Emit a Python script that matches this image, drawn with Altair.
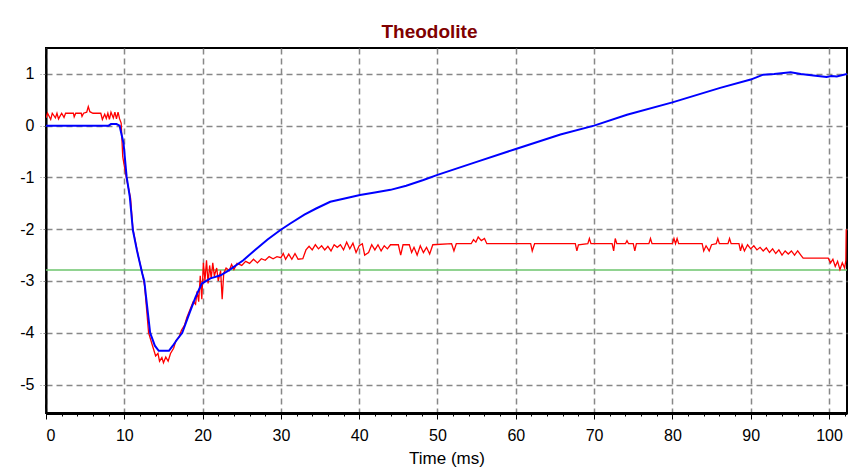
import altair as alt
import pandas as pd

title_text = "Theodolite"
x_title = "Time (ms)"
x_ticks = list(range(0, 103, 2))
y_ticks = [-5, -4, -3, -2, -1, 0, 1]
threshold = [-2.79]

blue_t = [0, 8.0, 8.3, 9.0, 9.4, 9.9, 10.3, 10.7, 11.1, 11.6, 12.3, 12.55, 13.3, 13.9,
          14.4, 15.7, 16.2, 16.7, 17.4, 18.3, 19.1, 19.9, 21.0, 22.3, 23.3, 25.2, 26.7,
          28.3, 29.9, 31.2, 33.0, 34.5, 36.3, 38.0, 40.1, 42.0, 44.0, 46.0, 48.2, 50,
          55, 60, 65.7, 70, 74.2, 80, 86.1, 90, 91.6, 93, 95.1, 96.4, 98, 99.7, 100.3,
          101, 102.3]
blue_v = [0, 0, 0.03, 0.03, 0.0, -0.34, -0.99, -1.37, -2.02, -2.4, -2.86, -3.0, -4.0, -4.25,
          -4.35, -4.35, -4.25, -4.14, -4.0, -3.63, -3.31, -3.05, -2.95, -2.89, -2.8, -2.6, -2.4,
          -2.2, -2.02, -1.89, -1.72, -1.6, -1.47, -1.41, -1.34, -1.29, -1.24, -1.16, -1.05, -0.95,
          -0.7, -0.45, -0.17, 0.0, 0.21, 0.45, 0.73, 0.89, 0.985, 1.0, 1.03, 1.0, 0.97, 0.94, 0.96,
          0.95, 1.0]

red_t = [0, 0.2, 0.6, 0.8, 1.2, 1.4, 1.6, 2.0, 2.3, 2.5, 3.5, 3.6, 3.8, 4.5, 4.6, 4.8, 5.2,
         5.4, 5.6, 6.0, 7.0, 7.2, 7.5, 7.7, 7.9, 8.1, 8.3, 8.6, 8.8, 9.0, 9.2, 9.4, 9.6,
         9.8, 10.25, 10.8, 11.1, 11.8, 12.3, 12.6, 13.1, 13.4, 13.7, 14.0, 14.3, 14.5, 14.8,
         15.0, 15.3, 15.6, 15.9, 16.3, 16.6, 17.0, 17.3, 17.7, 18.0, 18.4, 18.8, 19.1, 19.3,
         19.5, 19.7, 19.9, 20.1, 20.3, 20.5, 20.7, 20.9, 21.1, 21.3, 21.5, 21.8, 22.0, 22.3,
         22.5, 22.7, 23.0, 23.4, 23.7, 24.0, 24.4, 25.0, 25.5, 26.0, 26.5, 27.0, 27.5, 28.0,
         28.5, 29.0, 29.5, 30.0, 30.3, 30.6, 31.0, 31.4, 31.8, 32.2, 32.8, 33.2, 33.6, 34.0,
         34.4, 34.8, 35.2, 35.6, 36.0, 36.4, 36.8, 37.2, 37.6, 38.0, 38.4, 38.8, 39.2, 39.6,
         40.0, 40.4, 40.7, 41.2, 41.6, 42.0, 42.4, 42.8, 43.2, 43.6, 44.0, 45.0, 45.3, 45.6,
         46.4, 46.7, 47.0, 47.4, 47.8, 48.2, 48.6, 49.0, 49.4, 51.8, 52.1, 52.4, 54.3, 54.6,
         54.9, 55.2, 55.6, 56.0, 56.3, 61.9, 62.1, 62.4, 67.6, 67.8, 68.0, 69.2, 69.4, 69.6,
         72.3, 72.5, 72.7, 72.9, 74.0, 74.2, 74.4, 75.0, 75.2, 75.4, 77.0, 77.2, 77.4, 80.0,
         80.2, 80.4, 80.6, 80.8, 83.8, 84.0, 84.3, 84.7, 85.0, 85.6, 85.8, 86.0, 87.1, 87.3,
         87.5, 88.5, 88.7, 88.9, 89.2, 89.6, 90.0, 90.4, 90.8, 91.2, 91.6, 92.0, 92.4, 92.8,
         93.2, 93.6, 94.0, 94.4, 94.8, 95.2, 95.6, 96.0, 96.4, 96.7, 99.9, 100.2, 100.5,
         100.8, 101.1, 101.4, 101.7, 102.0, 102.15, 102.2]
red_v = [0.15, 0.24, 0.12, 0.24, 0.15, 0.24, 0.13, 0.24, 0.16, 0.24, 0.24, 0.17, 0.24, 0.24,
         0.18, 0.24, 0.26, 0.37, 0.27, 0.24, 0.24, 0.12, 0.22, 0.14, 0.24, 0.12, 0.26, 0.15,
         0.26, 0.13, 0.26, 0.13, 0.05,
         -0.6, -1.0, -1.4, -2.0, -2.53, -2.85, -3.1, -4.0, -4.15, -4.3, -4.45, -4.4, -4.55,
         -4.48, -4.58, -4.47, -4.55, -4.4, -4.3, -4.15, -4.08, -3.95, -3.85, -3.7, -3.55,
         -3.4, -3.45, -3.2, -3.4, -2.9, -3.35, -2.65, -3.0, -2.6, -3.05, -2.7, -2.95, -2.65,
         -2.9, -2.75, -3.0, -2.8, -3.35, -2.85, -2.75, -2.8, -2.68, -2.78, -2.66, -2.7, -2.62,
         -2.66, -2.58, -2.65, -2.57, -2.6, -2.53, -2.57, -2.53, -2.55, -2.47, -2.58, -2.48,
         -2.58, -2.47, -2.58, -2.57, -2.4, -2.33, -2.4, -2.3, -2.38, -2.32, -2.4, -2.33, -2.42,
         -2.3, -2.35, -2.3, -2.4, -2.25, -2.38, -2.27, -2.45, -2.32, -2.28, -2.5, -2.45, -2.3,
         -2.4, -2.3, -2.42, -2.32, -2.38, -2.3, -2.3, -2.5, -2.3, -2.3, -2.45, -2.35, -2.5,
         -2.32, -2.45, -2.35, -2.48, -2.3, -2.28, -2.42, -2.28, -2.28, -2.2, -2.25, -2.15,
         -2.22, -2.18, -2.28, -2.28, -2.42, -2.28, -2.28, -2.42, -2.3, -2.28, -2.18, -2.28,
         -2.28, -2.42, -2.18, -2.28, -2.28, -2.22, -2.28, -2.28, -2.42, -2.28, -2.28, -2.18,
         -2.28, -2.28, -2.18, -2.28, -2.18, -2.28, -2.28, -2.42, -2.32, -2.42, -2.3, -2.28,
         -2.18, -2.28, -2.28, -2.18, -2.28, -2.28, -2.42, -2.3, -2.42, -2.3, -2.38, -2.32,
         -2.4, -2.35, -2.42, -2.36, -2.45, -2.38, -2.47, -2.4, -2.5, -2.42, -2.48, -2.42,
         -2.5, -2.42, -2.5, -2.56, -2.56, -2.65, -2.58, -2.72, -2.62, -2.78, -2.65, -2.75,
         -2.6, -2.0]

df_blue = pd.DataFrame({"t": blue_t, "v": blue_v})
df_red = pd.DataFrame({"t": red_t, "v": red_v})
df_green = pd.DataFrame({"v": threshold})

x_scale = alt.Scale(domain=[0, 102.3], nice=False, zero=False)
y_scale = alt.Scale(domain=[-5.55, 1.5], nice=False, zero=False)

is_major = "datum.value % 10 === 0"
x_axis = alt.Axis(
    values=x_ticks,
    title=x_title,
    labelExpr=f"{is_major} ? datum.label : ''",
    tickSize={"condition": {"test": is_major, "value": 6}, "value": 3},
    gridOpacity={"condition": {"test": is_major, "value": 1}, "value": 0},
    tickColor="#000000",
    domainColor="#000000",
    domainWidth=3,
    labelPadding=8,
    titlePadding=7,
    titleFontSize=17,
    titleFontWeight="normal",
)
y_axis = alt.Axis(
    values=y_ticks,
    title=None,
    labelExpr="'' + datum.value",
    tickSize=6,
    tickColor="#888888",
    tickDash=[3, 2],
    domainColor="#000000",
    domainWidth=2,
    labelPadding=6,
)

x_enc = alt.X("t:Q", scale=x_scale, axis=x_axis)
y_enc = alt.Y("v:Q", scale=y_scale, axis=y_axis)

green = alt.Chart(df_green).mark_rule(color="#6cc46c", strokeWidth=1.5).encode(
    y=alt.Y("v:Q", scale=y_scale, axis=y_axis)
)
red = alt.Chart(df_red).mark_line(color="#ff0000", strokeWidth=1.3, clip=True).encode(
    x=x_enc, y=y_enc
)
blue = alt.Chart(df_blue).mark_line(color="#0000ff", strokeWidth=2, clip=True).encode(
    x=x_enc, y=y_enc
)

chart = alt.layer(green, red, blue).properties(
    width=801,
    height=365,
    title=alt.TitleParams(
        text=title_text,
        color="#800000",
        fontSize=19,
        fontWeight="bold",
        font="Liberation Sans",
        dx=-17,
        offset=6,
    ),
    autosize=alt.AutoSizeParams(type="none"),
    padding={"left": 38, "top": 40, "right": 5, "bottom": 58},
).configure(
    background="#ffffff",
).configure_view(
    stroke="#000000",
    strokeWidth=2,
).configure_axis(
    labelFont="Liberation Sans",
    titleFont="Liberation Sans",
    labelFontSize=16,
    labelColor="#000000",
    titleColor="#000000",
    grid=True,
    gridColor="#888888",
    gridDash=[6, 4],
    gridWidth=1.5,
)

chart.save("out.html", embed_options={"renderer": "svg", "actions": False})
